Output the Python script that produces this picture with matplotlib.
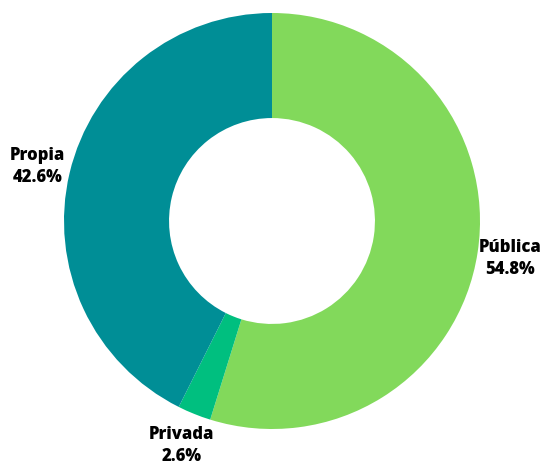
import matplotlib
matplotlib.use("Agg")
import matplotlib.pyplot as plt

categorias = ["Pública", "Privada", "Propia"]
porcentajes = [54.8, 2.6, 42.6]
colores = ["#82d95b", "#00bf7f", "#008e96"]

plt.rcParams['font.family'] = ['Open Sans', 'DejaVu Sans']

fig = plt.figure(figsize=(5.44, 4.64), dpi=100)
# centre at (272, 222) px, radius 208 px
ax = fig.add_axes([(272 - 208) / 544, (464 - 222 - 208) / 464, 416 / 544, 416 / 464])

etiquetas = ["{}\n{:.1f}%".format(c, p) for c, p in zip(categorias, porcentajes)]
wedges, texts = ax.pie(porcentajes, colors=colores, startangle=90, counterclock=False,
                       labels=etiquetas, labeldistance=1.16,
                       wedgeprops=dict(width=0.505, linewidth=0),
                       textprops=dict(fontsize=12, fontweight='heavy', color='black'))
for t in texts:
    t.set_ha('center')
    t.set_va('center')
    t.set_linespacing(1.35)

ax.set_xlim(-1, 1)
ax.set_ylim(-1, 1)
ax.set_aspect('equal')
ax.axis('off')

fig.savefig("out.png", dpi=100)
